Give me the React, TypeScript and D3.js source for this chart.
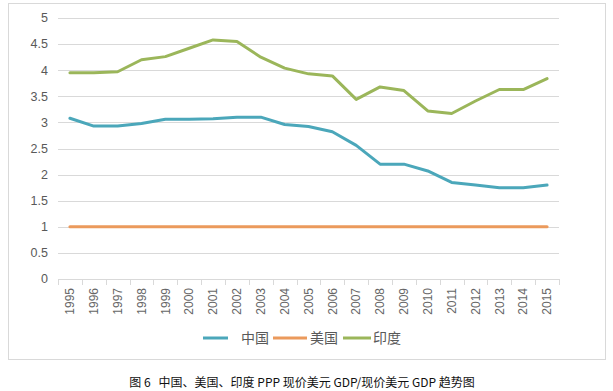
import React from "react";
import * as d3 from "d3";

const years = [
  "1995", "1996", "1997", "1998", "1999", "2000", "2001", "2002", "2003", "2004", "2005",
  "2006", "2007", "2008", "2009", "2010", "2011", "2012", "2013", "2014", "2015",
];
const china = [3.08, 2.93, 2.93, 2.98, 3.06, 3.06, 3.07, 3.1, 3.1, 2.96, 2.92, 2.82, 2.56, 2.2, 2.2, 2.07, 1.85, 1.8, 1.75, 1.75, 1.8];
const usa = [1, 1, 1, 1, 1, 1, 1, 1, 1, 1, 1, 1, 1, 1, 1, 1, 1, 1, 1, 1, 1];
const india = [3.95, 3.95, 3.97, 4.2, 4.26, 4.42, 4.58, 4.55, 4.25, 4.04, 3.93, 3.89, 3.44, 3.68, 3.61, 3.22, 3.17, 3.41, 3.63, 3.63, 3.84];
const yTicks = [0, 0.5, 1, 1.5, 2, 2.5, 3, 3.5, 4, 4.5, 5];
const seriesNames = ["中国", "美国", "印度"];
const caption = "图 6\u00a0\u00a0 中国、美国、印度 PPP 现价美元 GDP/现价美元 GDP 趋势图";

const colors = ["#4BA7BA", "#EB9A5C", "#9BB65A"];
const W = 613;
const H = 391;
const tickFont = "'Liberation Sans', Arial, sans-serif";
const cjkFont = "'Noto Sans CJK SC', sans-serif";

export default function App() {
  const plot = { left: 58, right: 559, top: 18, bottom: 279 };
  const x = d3.scaleBand<string>().domain(years).range([plot.left, plot.right]);
  const y = d3.scaleLinear().domain([0, 5]).range([plot.bottom, plot.top]);
  const cx = (yr: string) => (x(yr) ?? 0) + x.bandwidth() / 2;

  const line = d3
    .line<number>()
    .x((_, i) => cx(years[i]))
    .y((d) => y(d));

  const series = [china, usa, india];
  const legendItems = [
    { lineX: 203, lineW: 25, textX: 241 },
    { lineX: 273, lineW: 34, textX: 310 },
    { lineX: 343, lineW: 28, textX: 373 },
  ];

  return (
    <svg
      width={W}
      height={H}
      style={{ position: "absolute", left: 0, top: 0, background: "#fff" }}
    >
      <rect x={8.5} y={3.5} width={597} height={356} fill="#fff" stroke="#D9D9D9" />

      {/* gridlines */}
      {yTicks.map((t) => (
        <line
          key={t}
          x1={plot.left}
          x2={plot.right}
          y1={Math.round(y(t)) + 0.5}
          y2={Math.round(y(t)) + 0.5}
          stroke="#D9D9D9"
        />
      ))}
      {yTicks.map((t) => (
        <text
          key={"l" + t}
          x={48}
          y={y(t)}
          dy="0.35em"
          textAnchor="end"
          fontFamily={tickFont}
          fontSize={12.5}
          fill="#595959"
        >
          {t}
        </text>
      ))}

      {/* x ticks */}
      {years.concat(["end"]).map((yr, i) => {
        const xx = Math.round(plot.left + i * x.bandwidth()) + 0.5;
        return (
          <line key={"t" + i} x1={xx} x2={xx} y1={plot.bottom} y2={plot.bottom + 6} stroke="#D9D9D9" />
        );
      })}
      {years.map((yr) => (
        <text
          key={"x" + yr}
          transform={`translate(${cx(yr)},${plot.bottom + 9}) rotate(-90)`}
          dy="0.35em"
          textAnchor="end"
          fontFamily={tickFont}
          fontSize={12}
          fill="#666"
        >
          {yr}
        </text>
      ))}

      {series.map((s, i) => (
        <path
          key={"s" + i}
          d={line(s) ?? ""}
          fill="none"
          stroke={colors[i]}
          strokeWidth={3}
          strokeLinejoin="round"
          strokeLinecap="round"
        />
      ))}

      {/* legend */}
      {seriesNames.map((n, i) => (
        <g key={"g" + n}>
          <line
            x1={legendItems[i].lineX}
            x2={legendItems[i].lineX + legendItems[i].lineW}
            y1={338}
            y2={338}
            stroke={colors[i]}
            strokeWidth={3}
          />
          <text
            x={legendItems[i].textX}
            y={338}
            dy="0.36em"
            fontFamily={cjkFont}
            fontSize={14}
            fill="#595959"
          >
            {n}
          </text>
        </g>
      ))}

      <text
        x={302}
        y={383}
        dy="0.35em"
        textAnchor="middle"
        fontFamily={cjkFont}
        fontSize={12}
        fontWeight={400}
        fill="#111"
      >
        {caption}
      </text>
    </svg>
  );
}
